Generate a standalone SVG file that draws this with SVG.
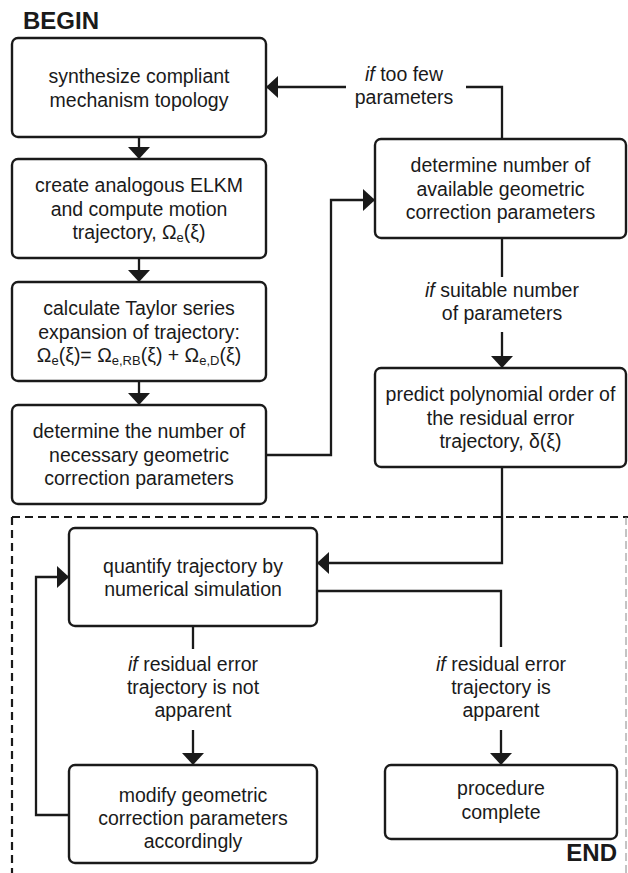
<svg xmlns="http://www.w3.org/2000/svg" width="628" height="873" viewBox="0 0 628 873">
<defs>
<style>
.box{fill:#fff;stroke:#1a1a1a;stroke-width:2.4}
.t{font-family:"Liberation Sans",Arial,sans-serif;font-size:19.5px;fill:#1a1a1a;text-anchor:middle}
.s{font-size:13px}
.hd{font-family:"Liberation Sans",Arial,sans-serif;font-size:24px;font-weight:bold;fill:#1a1a1a}
.c{fill:none;stroke:#1a1a1a;stroke-width:2.3}
.ca{fill:none;stroke:#1a1a1a;stroke-width:2.3;marker-end:url(#arr)}
</style>
<marker id="arr" viewBox="0 0 12 22" refX="11" refY="11" markerWidth="12" markerHeight="22" markerUnits="userSpaceOnUse" orient="auto">
<path d="M0,0 L12,11 L0,22 Z" fill="#1a1a1a"/>
</marker>
</defs>
<rect width="628" height="873" fill="#fff"/>
<g id="frame">
<path d="M12 517 H628" fill="none" stroke="#1a1a1a" stroke-width="2.2" stroke-dasharray="8 5"/>
<path d="M12 517 V873" fill="none" stroke="#1a1a1a" stroke-width="2.2" stroke-dasharray="8 5"/>
<path d="M626 517 V873" fill="none" stroke="#888" stroke-width="1" stroke-dasharray="8 4"/>
<text class="hd" x="23" y="29">BEGIN</text>
<text class="hd" x="617" y="861" text-anchor="end">END</text>
</g>
<g id="connectors">
<path class="ca" d="M139 137 V158"/>
<path class="ca" d="M139 258 V281"/>
<path class="ca" d="M139 381 V404"/>
<path class="ca" d="M266 455 H331 V200 H374"/>
<path class="c" d="M502 139 V87 H466"/>
<path class="ca" d="M346 87 H267"/>
<path class="c" d="M502 238 V277"/>
<path class="ca" d="M502 332 V367"/>
<path class="ca" d="M502 467 V563 H318"/>
<path class="c" d="M317 591 H501 V647"/>
<path class="c" d="M193 626 V649"/>
<path class="ca" d="M193 730 V764"/>
<path class="ca" d="M501 730 V764"/>
<path class="ca" d="M69 815 H36 V577 H68"/>
<text class="t" x="404" y="81"><tspan font-style="italic">if</tspan> too few</text>
<text class="t" x="404" y="104">parameters</text>
<text class="t" x="502" y="297"><tspan font-style="italic">if</tspan> suitable number</text>
<text class="t" x="502" y="320">of parameters</text>
<text class="t" x="193" y="671"><tspan font-style="italic">if</tspan> residual error</text>
<text class="t" x="193" y="694">trajectory is not</text>
<text class="t" x="193" y="717">apparent</text>
<text class="t" x="501" y="671"><tspan font-style="italic">if</tspan> residual error</text>
<text class="t" x="501" y="694">trajectory is</text>
<text class="t" x="501" y="717">apparent</text>
</g>
<g id="n1">
<rect class="box" x="12" y="38" width="254" height="99" rx="6"/>
<text class="t" x="139" y="83">synthesize compliant</text>
<text class="t" x="139" y="106.5">mechanism topology</text>
</g>
<g id="n2">
<rect class="box" x="12" y="159" width="254" height="99" rx="6"/>
<text class="t" x="139" y="192">create analogous ELKM</text>
<text class="t" x="139" y="215.5">and compute motion</text>
<text class="t" x="139" y="239">trajectory, Ω<tspan class="s" dy="3">e</tspan><tspan dy="-3">(ξ)</tspan></text>
</g>
<g id="n3">
<rect class="box" x="12" y="282" width="254" height="99" rx="6"/>
<text class="t" x="139" y="315">calculate Taylor series</text>
<text class="t" x="139" y="338.5">expansion of trajectory:</text>
<text class="t" x="139" y="362">Ω<tspan class="s" dy="3">e</tspan><tspan dy="-3">(ξ)= Ω</tspan><tspan class="s" dy="3">e,RB</tspan><tspan dy="-3">(ξ) + Ω</tspan><tspan class="s" dy="3">e,D</tspan><tspan dy="-3">(ξ)</tspan></text>
</g>
<g id="n4">
<rect class="box" x="12" y="405" width="254" height="99" rx="6"/>
<text class="t" x="139" y="438">determine the number of</text>
<text class="t" x="139" y="461.5">necessary geometric</text>
<text class="t" x="139" y="485">correction parameters</text>
</g>
<g id="n5">
<rect class="box" x="375" y="139" width="251" height="99" rx="6"/>
<text class="t" x="500.5" y="172">determine number of</text>
<text class="t" x="500.5" y="195.5">available geometric</text>
<text class="t" x="500.5" y="219">correction parameters</text>
</g>
<g id="n6">
<rect class="box" x="375" y="368" width="251" height="99" rx="6"/>
<text class="t" x="500.5" y="401">predict polynomial order of</text>
<text class="t" x="500.5" y="424.5">the residual error</text>
<text class="t" x="500.5" y="448">trajectory, δ(ξ)</text>
</g>
<g id="n7">
<rect class="box" x="69" y="528" width="248" height="98" rx="6"/>
<text class="t" x="193" y="573">quantify trajectory by</text>
<text class="t" x="193" y="596">numerical simulation</text>
</g>
<g id="n8">
<rect class="box" x="69" y="765" width="248" height="98" rx="6"/>
<text class="t" x="193" y="802">modify geometric</text>
<text class="t" x="193" y="825">correction parameters</text>
<text class="t" x="193" y="848">accordingly</text>
</g>
<g id="n9">
<rect class="box" x="385" y="765" width="232" height="74" rx="6"/>
<text class="t" x="501" y="795">procedure</text>
<text class="t" x="501" y="819">complete</text>
</g>
</svg>
